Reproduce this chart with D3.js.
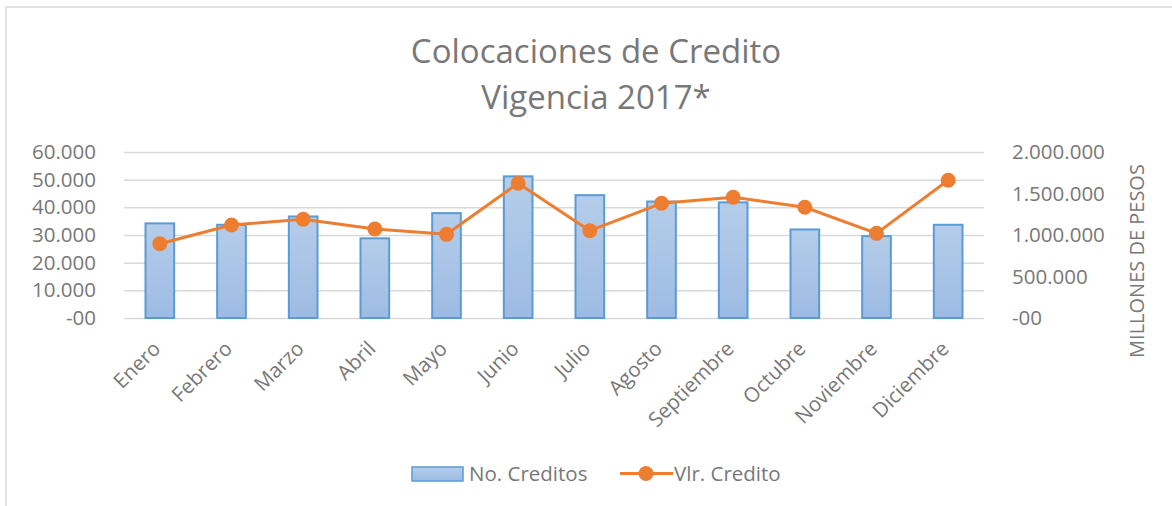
<!DOCTYPE html>
<html lang="es">
<head>
	<meta charset="utf-8">
	<title>Colocaciones de Credito</title>
	<script src="https://d3js.org/d3.v7.min.js"></script>
	<style>
	body { margin: 0; background: #fff; }
	text { font-family: "Open Sans", sans-serif; fill: #787878; }
	.axis .domain { display: none; }
	</style>
</head>
<body>
	<div id="chart"></div>
	<script>
		// data
		const meses = ["Enero", "Febrero", "Marzo", "Abril", "Mayo", "Junio", "Julio",
			"Agosto", "Septiembre", "Octubre", "Noviembre", "Diciembre"];
		const noCreditos = [34200, 33700, 36700, 28800, 37900, 51200, 44400, 42100, 41800, 32000, 29600, 33700];
		const vlrCredito = [895000, 1120000, 1190000, 1072000, 1008000, 1623000, 1052000, 1382000, 1454000, 1334000, 1020000, 1659000];
		const leftTicks = [0, 10000, 20000, 30000, 40000, 50000, 60000];
		const rightTicks = [0, 500000, 1000000, 1500000, 2000000];
		const titulo = ["Colocaciones de Credito", "Vigencia 2017*"];
		const serieNombres = ["No. Creditos", "Vlr. Credito"];
		const ejeDerecho = "MILLONES DE PESOS";

		const width = 1172, height = 506;
		const plotLeft = 124, plotRight = 984, plotTop = 152, plotBottom = 318;

		const loc = d3.formatLocale({ decimal: ",", thousands: ".", grouping: [3], currency: ["$", ""] });
		const fmt = loc.format(",d");
		const tickFmt = d => d === 0 ? "-00" : fmt(d);

		let svg = d3.select("#chart").append("svg")
			.attr("width", width)
			.attr("height", height);

		svg.append("rect").attr("width", width).attr("height", height).attr("fill", "#fff");

		// chart area border (top and left edges visible)
		svg.append("path")
			.attr("d", `M6,${height} L6,7 L${width},7`)
			.attr("fill", "none")
			.attr("stroke", "#d9d9d9")
			.attr("stroke-width", 1.5);

		// gradient for bars
		let defs = svg.append("defs");
		let grad = defs.append("linearGradient").attr("id", "barGrad")
			.attr("x1", 0).attr("y1", 0).attr("x2", 0).attr("y2", 1);
		grad.append("stop").attr("offset", "0%").attr("stop-color", "#b5cdea");
		grad.append("stop").attr("offset", "100%").attr("stop-color", "#9dbbe3");

		// title
		svg.append("g").selectAll("text")
			.data(titulo)
			.enter().append("text")
			.attr("x", 596)
			.attr("y", (d, i) => 63 + i * 46)
			.attr("text-anchor", "middle")
			.style("font-size", "33px")
			.text(d => d);

		// scales
		let x = d3.scaleBand().domain(meses).range([plotLeft, plotRight]).paddingInner(0.6).paddingOuter(0.3);
		let y = d3.scaleLinear().domain([0, 60000]).range([plotBottom, plotTop]);
		let y2 = d3.scaleLinear().domain([0, 2000000]).range([plotBottom, plotTop]);

		// left axis + gridlines
		let gy = svg.append("g").attr("class", "axis")
			.attr("transform", `translate(${plotLeft},0)`)
			.call(d3.axisLeft(y).tickValues(leftTicks).tickFormat(tickFmt)
				.tickSizeInner(-(plotRight - plotLeft)).tickSizeOuter(0).tickPadding(28));
		gy.selectAll("line").attr("stroke", "#d9d9d9").attr("stroke-width", 1.5);
		gy.selectAll("text").style("font-size", "20.5px").attr("fill", "#787878");

		// right axis
		let gy2 = svg.append("g").attr("class", "axis")
			.attr("transform", `translate(${plotRight},0)`)
			.call(d3.axisRight(y2).tickValues(rightTicks).tickFormat(tickFmt)
				.tickSize(0).tickPadding(28));
		gy2.selectAll("text").style("font-size", "20.5px").attr("fill", "#787878");

		svg.append("text")
			.attr("transform", "translate(1144,261) rotate(-90)")
			.attr("text-anchor", "middle")
			.style("font-size", "20px")
			.text(ejeDerecho);

		// x labels
		svg.append("g").selectAll("text")
			.data(meses)
			.enter().append("text")
			.attr("transform", d => `translate(${x(d) + x.bandwidth() / 2 + 2},350) rotate(-45)`)
			.attr("text-anchor", "end")
			.style("font-size", "20.5px")
			.text(d => d);

		// bars
		svg.append("g").selectAll("rect")
			.data(noCreditos)
			.enter().append("rect")
			.attr("x", (d, i) => x(meses[i]))
			.attr("y", d => y(d))
			.attr("width", x.bandwidth())
			.attr("height", d => y(0) - y(d))
			.attr("fill", "url(#barGrad)")
			.attr("stroke", "#5b9bd5")
			.attr("stroke-width", 2);

		// line
		let cx = (d, i) => x(meses[i]) + x.bandwidth() / 2;
		svg.append("path")
			.datum(vlrCredito)
			.attr("fill", "none")
			.attr("stroke", "#ed7d31")
			.attr("stroke-width", 3)
			.attr("stroke-linejoin", "round")
			.attr("d", d3.line().x(cx).y(d => y2(d)));
		svg.append("g").selectAll("circle")
			.data(vlrCredito)
			.enter().append("circle")
			.attr("cx", cx)
			.attr("cy", d => y2(d))
			.attr("r", 7.5)
			.attr("fill", "#ed7d31");

		// legend
		let lg = svg.append("g");
		lg.append("rect")
			.attr("x", 412).attr("y", 467)
			.attr("width", 51).attr("height", 14)
			.attr("fill", "url(#barGrad)")
			.attr("stroke", "#5b9bd5")
			.attr("stroke-width", 1.5);
		lg.append("text").attr("x", 469).attr("y", 481)
			.style("font-size", "20.5px").text(serieNombres[0]);
		lg.append("line")
			.attr("x1", 620).attr("x2", 673).attr("y1", 473.5).attr("y2", 473.5)
			.attr("stroke", "#ed7d31").attr("stroke-width", 3);
		lg.append("circle").attr("cx", 646).attr("cy", 473.5).attr("r", 7.5).attr("fill", "#ed7d31");
		lg.append("text").attr("x", 674).attr("y", 481)
			.style("font-size", "20.5px").text(serieNombres[1]);
	</script>
</body>
</html>
